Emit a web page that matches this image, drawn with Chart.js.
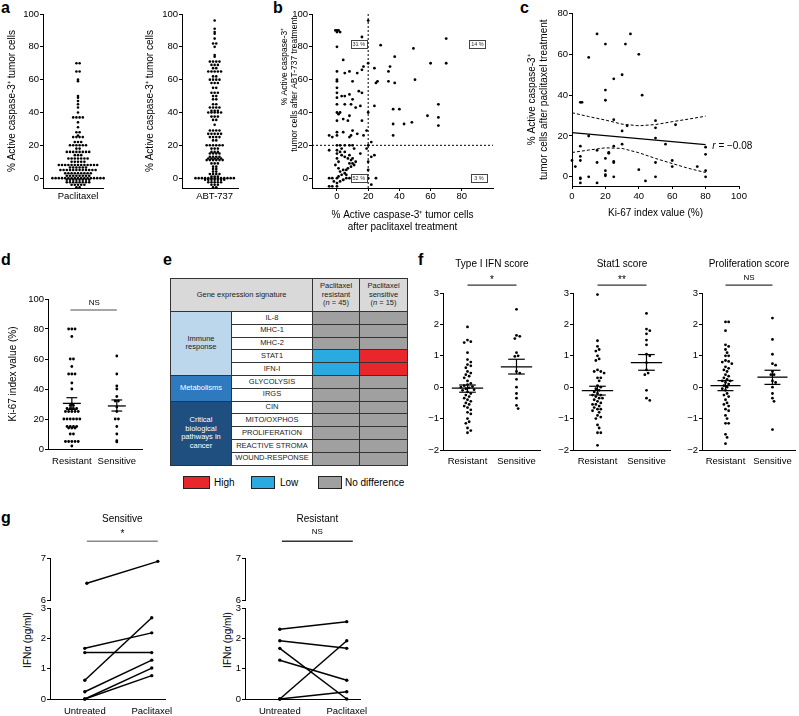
<!DOCTYPE html>
<html><head><meta charset="utf-8">
<script src="https://cdn.jsdelivr.net/npm/chart.js@4.4.1/dist/chart.umd.min.js"></script>
<style>
body{margin:0;background:#fff;width:799px;height:716px;overflow:hidden;position:relative;font-family:'Liberation Sans',Arial,Helvetica,sans-serif;color:#000}
.cv{position:absolute}
.lab{position:absolute;font-weight:bold;font-size:16px;line-height:16px}
.rt{position:absolute;font-size:10px;white-space:nowrap;transform:translate(-50%,-50%) rotate(-90deg)}
#tbl{position:absolute;left:170px;top:278px;border-collapse:collapse;table-layout:fixed;width:238px;font-size:7.5px;color:#222}
#tbl td{border:1px solid #333;padding:0;text-align:center;line-height:8.5px;overflow:hidden;color:#222}
.leg{position:absolute;top:476px;height:13px;border:1px solid #222;box-sizing:border-box}
.legt{position:absolute;top:477px;font-size:10px;line-height:12px}
</style></head><body>
<div class="lab" style="left:1px;top:0px">a</div>
<div class="lab" style="left:273px;top:0px">b</div>
<div class="lab" style="left:520px;top:0px">c</div>
<div class="lab" style="left:1px;top:252px">d</div>
<div class="lab" style="left:163px;top:252px">e</div>
<div class="lab" style="left:418px;top:252px">f</div>
<div class="lab" style="left:1px;top:510px">g</div>
<div class="rt" style="left:27px;top:640px">IFNα (pg/ml)</div>
<div class="rt" style="left:227px;top:640px">IFNα (pg/ml)</div>
<table id="tbl"></table>
<script>
// ================= DATA =================
// panel a
const aTicks = [0, 20, 40, 60, 80, 100];
const aPaclitaxel = [70,70,65,65,60,59,50,49,47,45,43,40,37,37,37,37,34,31,28,28,26,25,25,25,25,22,22,22,
  20,20,20,20,20,20,18,18,16,16,16,16,16,16,16,16,14,14,14,12,12,12,12,12,12,12,10,10,10,10,10,
  8,8,8,8,8,8,8,8,8,8,8,8,8,6.5,6.5,6.5,6.5,6.5,6.5,5,5,5,5,5,5,5,5,5,5,5,5,
  3,3,3,3,3,3,3,3,3,1.5,1.5,1.5,1.5,1.5,1.5,1.5,1.5,
  0,0,0,0,0,0,0,0,0,0,0,0,0,0,0,0,0,-1,-1,-1,-1,-1,-1,-1,-1,-2.5,-2.5,-2.5,-2.5,-2.5,-2.5,-2.5,-2.5,
  -4,-4,-4,-4,-4,-5.5,-5.5];
const aABT737 = [96,91,89,88,85,82,82,80,75,74,71,71,71,71,69,69,69,67,67,65,65,65,65,65,62,62,60,60,60,60,
  58,58,58,55,55,52,52,52,50,50,48,48,45,45,43,43,43,43,41,41,41,40,40,40,40,40,37.5,37.5,37.5,35.5,35.5,32.5,
  29,29,29,29,27,27,27,27,27,25,25,25,25,23,23,20,20,20,20,20,20,18,18,18,16,16,16,15,15,15,15,
  13,13,13,13,12,12,12,12,12,11,11,11,11,11,11,9,9,9,7,7,5.5,5.5,4,4,2.5,2.5,2.5,2.5,1,1,1,
  0,0,0,0,0,0,0,0,0,0,0,0,0,-1,-1,-1,-1,-1,-1,-1,-2.5,-2.5,-2.5,-2.5,-2.5,-4,-4,-4,-5.5,-5.5];
const aLabelL = ['Paclitaxel'];
const aLabelR = ['ABT-737'];

// panel b (x: paclitaxel %, y: ABT-737 %)
const bPac = [-1,0,1,2,0,20,16,0,4,28,49,70,60,70,20,0,5,8,13,17,16,24,33,34,37,0,0,10,26,25,33,37,50,
  0,0,3,5,8,14,16,10,0,0,5,9,15,12,24,0,1,2,8,4,0,7,16,20,36,40,36,43,48,58,65,65,65,36,
  -5,-3,0,0,4,9,10,13,17,19,22,8,20,0,2,5,8,10,
  -5,0,0,2,3,5,7,9,10,11,12,9,7,6,4,2,3,5,1,0,-3,-5,-2,0,2,4,-5,-3,0,6,8,10,8,5,3,11,0,1,-1,1,
  15,19,20,22,24,20,20,25,10,12,14,6,4,8,16,18,22];
const bAbt = [90,90,90,89,89,96,86,80,72,81,79,85,70,70,70,65,64,65,64,68,66,67,65,68,74,60,59,59,59,58,59,58,60,
  55,52,50,50,51,53,52,48,49,45,45,45,44,43,44,40,39,40,38,36,35,35,35,40,42,42,33,33,34,38,45,37,32,26,
  26,25,28,26,28,26,29,27,26,29,22,25,20,20,20,20,20,20,
  17,17,15,16,14,13,12,11,9,8,10,7,6,5,5,4,2,3,1,0,0,0,-2,-3,-2,-1,-5,-5,-5,2,9,12,14,16,18,18,12,10,8,6,
  15,18,10,13,14,5,0,0,0,0,-1,0,-1,0,0,0,-4];
const bTicks = [0, 20, 40, 60, 80];
const bThreshold = 20;
const bQuadrants = ['31 %', '14 %', '52 %', '3 %'];

// panel c
const cKi67 = [15,35,20,32,10,40,30,25,20,42,20,5,6,25,33,50,50,62,30,10,50,56,30,80,5,25,15,22,22,20,80,60,5,5,0,15,25,25,50,2,60,75,80,20,40,20,20,10,25,50,80,5,5,44,15,5];
const cCasp = [70,70,65,65,58.5,60,50,48,42.5,40,37.5,36.5,36.5,28,25,27.5,24,25.5,22.5,20,19,16,16,14.5,15,15,13,12,11.5,9,11,8,10,8,8,7,7.5,7,7,5,5,5,3,3,3.5,1,0.5,0,0,0,0,-0.5,-1,-2,-3,-3];
const cFitX = [0, 80];
const cFitY = [21.6, 15.8];
const cBandX = [0, 10, 20, 30, 40, 50, 60, 70, 80];
const cBandUpper = [31.4, 29.5, 27.8, 25.8, 25.0, 25.6, 27.0, 28.3, 29.7];
const cBandLower = [11.9, 13.1, 14.2, 13.9, 11.8, 9.0, 6.5, 4.1, 2.1];
const cXTicks = [0, 20, 40, 60, 80, 100];
const cYTicks = [0, 20, 40, 60, 80];
const cR = '−0.08';

// panel d
const groups = ['Resistant', 'Sensitive'];
const dResistant = [80,80,80,75,60,60,55,50,50,50,44,40,30,29,29,27,27,27,27,25,25,25,25,25,20,20,20,20,20,20,15,15,15,15,14,14,14,10,10,5,5,5,5,5,2];
const dSensitive = [62,50,42,40,35,32,32,28,25,20,20,15,10,5.5,4.7];
const dMean = [30.4, 28.7];
const dSemLow = [26.4, 25.3];
const dSemHigh = [34.2, 32.7];
const dTicks = [0, 20, 40, 60, 80, 100];

// panel e
const eSignatures = ['IL-8','MHC-1','MHC-2','STAT1','IFN-I','GLYCOLYSIS','IRGS','CIN','MITO/OXPHOS','PROLIFERATION','REACTIVE STROMA','WOUND-RESPONSE'];
const eGroupNames = ['Immune response', 'Metabolisms', 'Critical biological pathways in cancer'];
const eGroupSizes = [5, 2, 5];
const eResistant = ['none','none','none','low','low','none','none','none','none','none','none','none'];
const eSensitive = ['none','none','none','high','high','none','none','none','none','none','none','none'];
const eLegend = ['High', 'Low', 'No difference'];

// panel f
const fTitles = ['Type I IFN score', 'Stat1 score', 'Proliferation score'];
const fSig = ['*', '**', 'NS'];
const fTicks = [-2, -1, 0, 1, 2, 3];
const fIfnRes = [1.92,1.5,1.45,1.42,1.1,0.88,0.8,0.72,0.68,0.62,0.5,0.45,0.4,0.35,0.3,0.2,0.12,0.08,0.05,0.02,0,-0.02,-0.05,-0.08,-0.1,-0.15,-0.2,-0.25,-0.3,-0.35,-0.4,-0.45,-0.5,-0.55,-0.6,-0.65,-0.72,-0.8,-0.85,-1.0,-1.1,-1.15,-1.3,-1.38,-1.45];
const fIfnSen = [2.48,1.65,1.62,1.55,1.1,1.0,0.98,0.5,0.45,0.25,0,-0.2,-0.35,-0.58,-0.68];
const fStatRes = [2.95,1.48,1.3,1.2,1.15,1.0,0.9,0.85,0.55,0.5,0.5,0.45,0.3,0.3,0.2,0.05,0,-0.05,-0.1,-0.15,-0.2,-0.25,-0.25,-0.3,-0.35,-0.35,-0.4,-0.45,-0.5,-0.55,-0.55,-0.6,-0.65,-0.7,-0.7,-0.75,-0.8,-0.9,-0.95,-1.0,-1.2,-1.3,-1.45,-1.45,-1.85];
const fStatSen = [2.35,1.85,1.8,1.7,1.5,1.35,1.05,1.0,0.78,0.55,0.45,0.4,-0.1,-0.35,-0.42];
const fProRes = [2.08,2.08,1.8,1.35,1.3,1.2,1.1,1.0,1.0,0.85,0.82,0.8,0.75,0.65,0.6,0.55,0.5,0.4,0.35,0.3,0.25,0.2,0.2,0.15,0.1,0.05,0,-0.05,-0.1,-0.2,-0.25,-0.3,-0.4,-0.5,-0.55,-0.6,-0.7,-0.75,-0.9,-1.0,-1.15,-1.15,-1.5,-1.6,-1.8];
const fProSen = [2.2,1.52,1.05,0.75,0.7,0.5,0.4,0.4,0.2,0.15,0,-0.2,-0.35,-0.45,-1.35];
const fMean = [[-0.03, 0.65], [-0.11, 0.78], [0.05, 0.32]];
const fSemLow = [[-0.16, 0.42], [-0.25, 0.54], [-0.11, 0.09]];
const fSemHigh = [[0.07, 0.89], [0.03, 1.04], [0.21, 0.54]];

// panel g
const gConditions = ['Untreated', 'Paclitaxel'];
const gTitles = ['Sensitive', 'Resistant'];
const gSig = ['*', 'NS'];
const gSensUntreated = [6.4, 1.67, 1.53, 0.62, 0.24, 0, 0];
const gSensPaclitaxel = [6.92, 2.18, 1.53, 2.68, 1.28, 1.02, 0.77];
const gResUntreated = [2.3, 1.92, 1.67, 1.28, 0, 0];
const gResPaclitaxel = [2.55, 1.67, 0, 0.62, 1.92, 0.24];
const gTopTicks = [6, 7];
const gBotTicks = [0, 1, 2, 3];

// ================= HELPERS =================
const FONT = "'Liberation Sans', Arial, Helvetica, sans-serif";
Chart.defaults.font.family = FONT;
Chart.defaults.font.size = 10;
Chart.defaults.color = '#000';
const TICK = 9.5;

const annot = {
  id: 'annot',
  afterDraw(chart, args, opts) {
    const items = opts.items || [];
    const ctx = chart.ctx, xs = chart.scales.x, ys = chart.scales.y;
    for (let i = 0; i < items.length; i++) {
      const it = items[i];
      ctx.save();
      const px = it.kind === 'vtext' ? chart.chartArea.left + it.dx : xs.getPixelForValue(it.x);
      const py = ys.getPixelForValue(it.y);
      if (it.kind === 'sig') {
        const x2 = xs.getPixelForValue(it.x2);
        ctx.strokeStyle = it.color || '#000'; ctx.lineWidth = 1.4;
        ctx.beginPath(); ctx.moveTo(px, py); ctx.lineTo(x2, py); ctx.stroke();
      } else if (it.kind === 'text') {
        ctx.font = (it.style || '') + ' ' + (it.size || 10) + 'px ' + FONT;
        ctx.fillStyle = it.color || '#000';
        ctx.textAlign = it.align || 'center'; ctx.textBaseline = 'middle';
        ctx.fillText(it.text, px, py);
      } else if (it.kind === 'vtext') {
        ctx.translate(px, py); ctx.rotate(-Math.PI / 2);
        ctx.font = (it.size || 10) + 'px ' + FONT;
        ctx.fillStyle = '#000'; ctx.textAlign = 'center'; ctx.textBaseline = 'middle';
        ctx.fillText(it.text, 0, 0);
      } else if (it.kind === 'box') {
        ctx.font = '5.5px ' + FONT;
        ctx.textAlign = 'center'; ctx.textBaseline = 'middle';
        ctx.strokeStyle = '#444'; ctx.lineWidth = 1;
        ctx.fillStyle = '#fff';
        ctx.fillRect(Math.round(px - 8) + 0.5, Math.round(py - 4) + 0.5, 16, 8);
        ctx.strokeRect(Math.round(px - 8) + 0.5, Math.round(py - 4) + 0.5, 16, 8);
        ctx.fillStyle = '#333';
        ctx.fillText(it.text, px, py + 0.5);
      } else if (it.kind === 'rtext') {
        ctx.textBaseline = 'middle'; ctx.textAlign = 'left'; ctx.fillStyle = '#000';
        ctx.font = 'italic 10px ' + FONT;
        ctx.fillText('r', px, py);
        const w = ctx.measureText('r').width;
        ctx.font = '10px ' + FONT;
        ctx.fillText(' = ' + it.text, px + w, py);
      }
      ctx.restore();
    }
  }
};
Chart.register(annot);

function fmt(v) { return v < 0 ? '−' + Math.abs(v) : String(v); }

function yAx(min, max, ticks, title, tpad) {
  return {
    type: 'linear', min: min, max: max,
    afterBuildTicks: s => { s.ticks = ticks.map(v => ({ value: v })); },
    ticks: { callback: v => fmt(v), padding: 1, font: { size: TICK } },
    grid: { display: true, drawOnChartArea: false, drawTicks: true, tickLength: 3, color: '#000' },
    border: { display: true, color: '#000', width: 1 },
    title: title ? { display: true, text: title, padding: { top: tpad, bottom: 0 }, font: { size: 10, lineHeight: 1.2 } } : { display: false }
  };
}
function xNum(min, max, ticks, title, tpad, lpad) {
  return {
    type: 'linear', min: min, max: max,
    afterBuildTicks: s => { s.ticks = ticks.map(v => ({ value: v })); },
    ticks: { callback: v => fmt(v), padding: lpad, font: { size: TICK }, maxRotation: 0, autoSkip: false },
    grid: { display: true, drawOnChartArea: false, drawTicks: true, tickLength: 3, color: '#000' },
    border: { display: true, color: '#000', width: 1 },
    title: title ? { display: true, text: title, padding: { top: 0, bottom: tpad }, font: { size: 10, lineHeight: 1.2 } } : { display: false }
  };
}
function xCat(min, max, labels, pad, show) {
  return {
    type: 'linear', min: min, max: max, display: show !== false,
    afterBuildTicks: s => { s.ticks = labels.map((l, i) => ({ value: i + 1 })); },
    ticks: { callback: (v, i) => labels[i], padding: pad, font: { size: TICK }, maxRotation: 0, autoSkip: false },
    grid: { display: false, drawTicks: false, tickLength: 0 },
    border: { display: true, color: '#000', width: 1 }
  };
}

function mk(box, area, cfg) {
  const c = document.createElement('canvas');
  c.width = box.w; c.height = box.h; c.className = 'cv';
  c.style.left = box.x + 'px'; c.style.top = box.y + 'px';
  document.body.appendChild(c);
  const o = cfg.options;
  const padB = area.padB || 0;
  o.responsive = false; o.animation = false; o.devicePixelRatio = 1;
  o.layout = { padding: { top: area.t - box.y, right: box.x + box.w - area.r, left: 0, bottom: padB } };
  const yw = area.l - box.x, xh = box.y + box.h - padB - area.b;
  o.scales.y.afterFit = s => { s.width = yw; };
  o.scales.x.afterFit = s => { s.height = xh; };
  o.plugins = Object.assign({ legend: { display: false }, tooltip: { enabled: false } }, o.plugins || {});
  return new Chart(c, cfg);
}

// swarm placement: 'rows' = points of equal value laid out in a centred row
function swarm(vals, center, pxX, pxY, d, rows) {
  const out = [];
  if (rows) {
    const counts = new Map();
    vals.forEach(v => counts.set(v, (counts.get(v) || 0) + 1));
    counts.forEach((n, v) => { for (let i = 0; i < n; i++) out.push({ x: center + (i - (n - 1) / 2) * d / pxX, y: v }); });
    return out;
  }
  const sorted = vals.slice().sort((a, b) => b - a);
  const placed = [];
  sorted.forEach(v => {
    const yp = v * pxY;
    for (let k = 0; k < 400; k++) {
      const off = (k % 2 === 1 ? 1 : -1) * Math.ceil(k / 2) * d * 0.5;
      if (placed.every(p => (p.x - off) * (p.x - off) + (p.y - yp) * (p.y - yp) >= d * d * 0.95)) {
        placed.push({ x: off, y: yp }); out.push({ x: center + off / pxX, y: v }); break;
      }
    }
  });
  return out;
}
function dots(data, r) {
  return { type: 'scatter', data: data, pointRadius: r || 1.4, pointBackgroundColor: '#000', pointBorderWidth: 0, clip: false };
}
function seg(pts, w, dash, color) {
  return { type: 'line', data: pts, showLine: true, borderColor: color || '#000', borderWidth: w || 1.2, borderDash: dash || [], pointRadius: 0, fill: false, clip: false, tension: 0 };
}
function meanSem(c, m, lo, hi, hw, cw) {
  return [
    seg([{ x: c - hw, y: m }, { x: c + hw, y: m }], 1.3),
    seg([{ x: c, y: lo }, { x: c, y: hi }], 1.2),
    seg([{ x: c - cw, y: lo }, { x: c + cw, y: lo }], 1.2),
    seg([{ x: c - cw, y: hi }, { x: c + cw, y: hi }], 1.2)
  ];
}

// ================= PANEL a =================
mk({ x: 0, y: 0, w: 110, h: 205 }, { l: 43, t: 14, r: 103, b: 188 }, {
  type: 'scatter',
  data: { datasets: [dots(swarm(aPaclitaxel, 1, 50, 1.64, 3.2, true), 1.3)] },
  options: { scales: { x: xCat(0.3, 1.5, aLabelL, 3), y: yAx(-6, 100, aTicks, '% Active caspase-3⁺ tumor cells', 6) } }
});
mk({ x: 140, y: 0, w: 105, h: 205 }, { l: 182, t: 14, r: 238, b: 188 }, {
  type: 'scatter',
  data: { datasets: [dots(swarm(aABT737, 1, 46.7, 1.64, 3.2, true), 1.3)] },
  options: { scales: { x: xCat(0.3, 1.5, aLabelR, 3), y: yAx(-6, 100, aTicks, '% Active caspase-3⁺ tumor cells', 4) } }
});

// ================= PANEL b =================
mk({ x: 270, y: 0, w: 230, h: 240 }, { l: 312, t: 14, r: 493, b: 188 }, {
  type: 'scatter',
  data: { datasets: [
    seg([{ x: bThreshold, y: -6 }, { x: bThreshold, y: 100 }], 1, [2, 2]),
    seg([{ x: -16, y: bThreshold }, { x: 100, y: bThreshold }], 1, [2, 2]),
    dots(bPac.map((v, i) => ({ x: v, y: bAbt[i] })), 1.4)
  ] },
  options: {
    scales: {
      x: xNum(-16, 100, bTicks, ['% Active caspase-3⁺ tumor cells', 'after paclitaxel treatment'], 7, 0),
      y: yAx(-6, 100, aTicks, null, 0)
    },
    plugins: { annot: { items: [
      { kind: 'vtext', dx: -27, y: 68, text: '% Active caspase-3⁺', size: 8.5 },
      { kind: 'vtext', dx: -17, y: 57, text: 'tumor cells after ABT-737 treatment', size: 8.5 },
      { kind: 'box', x: 14, y: 82, text: bQuadrants[0] },
      { kind: 'box', x: 90, y: 82, text: bQuadrants[1] },
      { kind: 'box', x: 14, y: 0, text: bQuadrants[2] },
      { kind: 'box', x: 91, y: 0, text: bQuadrants[3] }
    ] } }
  }
});

// ================= PANEL c =================
mk({ x: 525, y: 0, w: 274, h: 224 }, { l: 572, t: 13.5, r: 739, b: 186 }, {
  type: 'scatter',
  data: { datasets: [
    seg(cBandX.map((v, i) => ({ x: v, y: cBandUpper[i] })), 1, [3, 2]),
    seg(cBandX.map((v, i) => ({ x: v, y: cBandLower[i] })), 1, [3, 2]),
    seg(cFitX.map((v, i) => ({ x: v, y: cFitY[i] })), 1.2),
    dots(cKi67.map((v, i) => ({ x: v, y: cCasp[i] })), 1.4)
  ] },
  options: {
    scales: {
      x: xNum(0, 100, cXTicks, 'Ki-67 index value (%)', 5, 2),
      y: yAx(-4.5, 80, cYTicks, ['% Active caspase-3⁺', 'tumor cells after paclitaxel treatment'], 1)
    },
    plugins: { annot: { items: [{ kind: 'rtext', x: 84, y: 15.2, text: cR }] } }
  }
});

// ================= PANEL d =================
mk({ x: 0, y: 285, w: 150, h: 185 }, { l: 48, t: 299, r: 142, b: 449 }, {
  type: 'scatter',
  data: { datasets: [
    dots(swarm(dResistant, 1, 45, 1.5, 3.2, true), 1.4),
    dots(swarm(dSensitive, 2, 45, 1.5, 3.2, true), 1.4)
  ].concat(meanSem(1, dMean[0], dSemLow[0], dSemHigh[0], 0.2, 0.12), meanSem(2, dMean[1], dSemLow[1], dSemHigh[1], 0.2, 0.12)) },
  options: {
    scales: { x: xCat(0.47, 2.56, groups, 7), y: yAx(0, 100, dTicks, 'Ki-67 index value (%)', 7) },
    plugins: { annot: { items: [
      { kind: 'sig', x: 0.97, x2: 2.0, y: 92.7, color: '#888' },
      { kind: 'text', x: 1.5, y: 97.5, text: 'NS', size: 8 }
    ] } }
  }
});

// ================= PANEL e (table) =================
(function () {
  const colors = { none: '#a0a0a0', low: '#29abe2', high: '#e8262b' };
  const gStyle = [
    'background:#bcd6ec;color:#222',
    'background:#2f79bf;color:#fff',
    'background:#1f4f7f;color:#fff'
  ];
  let html = '<colgroup><col style="width:61px"><col style="width:81px"><col style="width:47px"><col style="width:48px"></colgroup>';
  html += '<tr style="height:33px;background:#d9d9d9"><td colspan="2">Gene expression signature</td>' +
    '<td>Paclitaxel<br>resistant<br>(<i>n</i> = 45)</td><td>Paclitaxel<br>sensitive<br>(<i>n</i> = 15)</td></tr>';
  let row = 0;
  eGroupNames.forEach((g, gi) => {
    for (let k = 0; k < eGroupSizes[gi]; k++) {
      html += '<tr style="height:12.8px">';
      if (k === 0) html += '<td rowspan="' + eGroupSizes[gi] + '" style="' + gStyle[gi] + ';padding:0 7px;white-space:normal">' + g + '</td>';
      html += '<td style="background:#fff;color:#222;white-space:nowrap">' + eSignatures[row] + '</td>';
      html += '<td style="background:' + colors[eResistant[row]] + '"></td>';
      html += '<td style="background:' + colors[eSensitive[row]] + '"></td></tr>';
      row++;
    }
  });
  document.getElementById('tbl').innerHTML = html;
  const legCols = [colors.high, colors.low, colors.none];
  const boxX = [183, 251, 318];
  const txtX = [214, 280, 345];
  eLegend.forEach((t, i) => {
    const b = document.createElement('div'); b.className = 'leg';
    b.style.left = boxX[i] + 'px'; b.style.width = (i === 0 ? 27 : 24) + 'px'; b.style.background = legCols[i];
    document.body.appendChild(b);
    const s = document.createElement('div'); s.className = 'legt'; s.style.left = txtX[i] + 'px'; s.textContent = t;
    document.body.appendChild(s);
  });
})();

// ================= PANEL f =================
const fData = [[fIfnRes, fIfnSen], [fStatRes, fStatSen], [fProRes, fProSen]];
const fBoxX = [415, 545, 674];
const fAxisL = [443, 573, 702];
fData.forEach((pair, k) => {
  mk({ x: fBoxX[k], y: 255, w: (k === 2 ? 125 : 130), h: 215 }, { l: fAxisL[k], t: 293, r: fAxisL[k] + 97, b: 450 }, {
    type: 'scatter',
    data: { datasets: [
      dots(swarm(pair[0], 1, 49, 31.4, 3.3, false), 1.4),
      dots(swarm(pair[1], 2, 49, 31.4, 3.3, false), 1.4)
    ].concat(meanSem(1, fMean[k][0], fSemLow[k][0], fSemHigh[k][0], 0.32, 0.17),
             meanSem(2, fMean[k][1], fSemLow[k][1], fSemHigh[k][1], 0.32, 0.17)) },
    options: {
      scales: { x: xCat(0.5, 2.48, groups, 6), y: yAx(-2, 3, fTicks, null, 0) },
      plugins: { annot: { items: [
        { kind: 'text', x: 1.5, y: 3.9, text: fTitles[k], size: 10 },
        { kind: 'sig', x: 1, x2: 2, y: 3.25, color: '#333' },
        { kind: 'text', x: 1.5, y: fSig[k] === 'NS' ? 3.47 : 3.42, text: fSig[k], size: fSig[k] === 'NS' ? 8 : 10 }
      ] } }
    }
  });
});

// ================= PANEL g =================
const gPairs = [[gSensUntreated, gSensPaclitaxel], [gResUntreated, gResPaclitaxel]];
const gBoxX = [0, 200];
const gAxisL = [50, 245];
gPairs.forEach((pp, k) => {
  const top = [], bot = [];
  pp[0].forEach((u, i) => {
    const ds = seg([{ x: 1, y: u }, { x: 2, y: pp[1][i] }], 1.5);
    ds.pointRadius = 1.7; ds.pointBackgroundColor = '#000'; ds.pointBorderWidth = 0;
    (u >= 6 ? top : bot).push(ds);
  });
  mk({ x: gBoxX[k], y: 505, w: (k === 0 ? 180 : 175), h: 107 }, { l: gAxisL[k], t: 558, r: gAxisL[k] + 122, b: 600, padB: 12 }, {
    type: 'scatter',
    data: { datasets: top },
    options: {
      scales: { x: xCat(0.48, 2.2, gConditions, 0, false), y: yAx(6, 7, gTopTicks, null, 0) },
      plugins: { annot: { items: [
        { kind: 'text', x: 1.5, y: 7.93, text: gTitles[k], size: 10 },
        { kind: 'sig', x: 1, x2: 2, y: 7.4, color: k === 0 ? '#888' : '#333' },
        { kind: 'text', x: 1.5, y: gSig[k] === 'NS' ? 7.62 : 7.57, text: gSig[k], size: gSig[k] === 'NS' ? 8 : 10 }
      ] } }
    }
  });
  mk({ x: gBoxX[k], y: 596, w: (k === 0 ? 180 : 175), h: 120 }, { l: gAxisL[k], t: 608, r: gAxisL[k] + 122, b: 699 }, {
    type: 'scatter',
    data: { datasets: bot },
    options: { scales: { x: xCat(0.48, 2.2, gConditions, 7), y: yAx(0, 3, gBotTicks, null, 0) } }
  });
});
</script>
</body></html>
